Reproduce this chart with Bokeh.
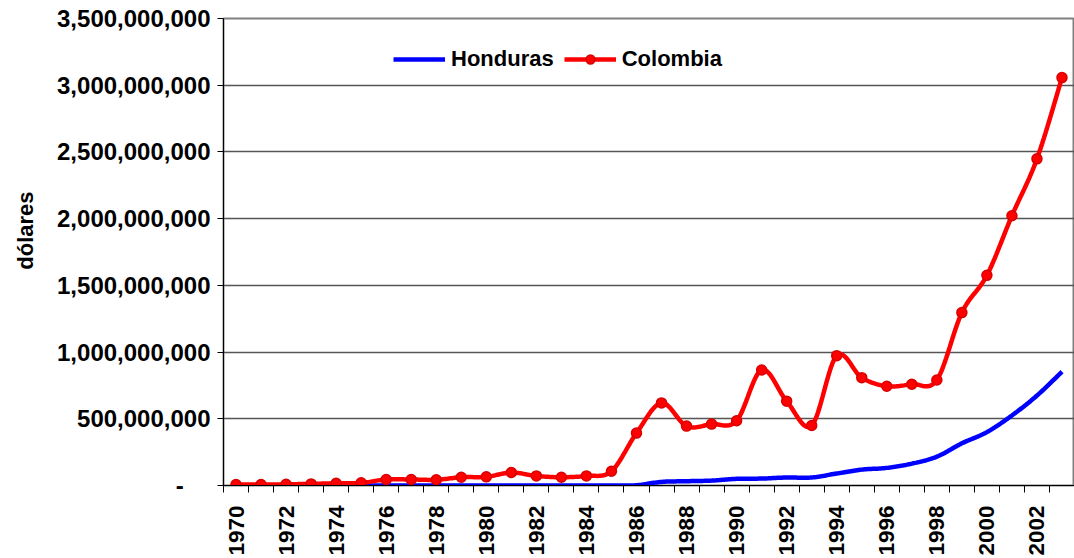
import numpy as np
from bokeh.plotting import figure
from bokeh.models import (Range1d, FixedTicker, CustomJSTickFormatter, Legend, LegendItem)
from bokeh.embed import file_html
from bokeh.resources import INLINE

years = list(range(1970, 2004))
colombia = [7e6, 7e6, 9e6, 12e6, 17e6, 20e6, 45e6, 45e6, 43e6, 62e6, 65e6, 97e6, 72e6, 62e6, 72e6,
            107e6, 393e6, 619e6, 445e6, 460e6, 485e6, 866e6, 632e6, 450e6, 973e6, 808e6, 744e6,
            759e6, 791e6, 1296e6, 1575e6, 2022e6, 2448e6, 3057e6]
honduras = [0, 0, 0, 0, 0, 0, 0, 0, 0, 0, 0, 0, 0, 0, 0,
            0, 2e6, 27e6, 32e6, 37e6, 50e6, 52e6, 60e6, 60e6, 90e6, 119e6, 132e6,
            164e6, 216e6, 316e6, 400e6, 525e6, 674e6, 853e6]
y_ticks = [0, 500e6, 1000e6, 1500e6, 2000e6, 2500e6, 3000e6, 3500e6]
x_labels = list(range(1970, 2003, 2))


def smooth(xs, ys, n=16):
    """Catmull-Rom spline through the data points (like Excel smoothed lines)."""
    xs = np.asarray(xs, float)
    ys = np.asarray(ys, float)
    px = np.concatenate([[xs[0]], xs, [xs[-1]]])
    py = np.concatenate([[ys[0]], ys, [ys[-1]]])
    outx, outy = [], []
    t = np.linspace(0, 1, n, endpoint=False)
    for i in range(1, len(px) - 2):
        p0x, p1x, p2x, p3x = px[i - 1], px[i], px[i + 1], px[i + 2]
        p0y, p1y, p2y, p3y = py[i - 1], py[i], py[i + 1], py[i + 2]
        c1x = p1x + (p2x - p0x) / 6
        c1y = p1y + (p2y - p0y) / 6
        c2x = p2x - (p3x - p1x) / 6
        c2y = p2y - (p3y - p1y) / 6
        b0 = (1 - t) ** 3
        b1 = 3 * (1 - t) ** 2 * t
        b2 = 3 * (1 - t) * t ** 2
        b3 = t ** 3
        outx.extend(b0 * p1x + b1 * c1x + b2 * c2x + b3 * p2x)
        outy.extend(b0 * p1y + b1 * c1y + b2 * c2y + b3 * p2y)
    outx.append(xs[-1])
    outy.append(ys[-1])
    return outx, outy


FONT = "Liberation Sans"

p = figure(width=1074, height=558, output_backend="svg", toolbar_location=None,
           x_range=Range1d(1969.5, 2003.5), y_range=Range1d(0, 3.5e9),
           min_border_left=223, min_border_right=0, min_border_top=18, min_border_bottom=71)

p.outline_line_color = "#808080"
p.outline_line_width = 2
p.xgrid.grid_line_color = None
p.ygrid.grid_line_color = "#555555"
p.ygrid.grid_line_width = 1.3
p.ygrid.ticker = FixedTicker(ticks=y_ticks)

# y axis
p.yaxis.ticker = FixedTicker(ticks=y_ticks)
p.yaxis.formatter = CustomJSTickFormatter(
    code="return tick == 0 ? '-\\u00a0\\u00a0\\u00a0\\u00a0' : tick.toLocaleString('en-US');")
p.yaxis.major_label_text_font = FONT
p.yaxis.major_label_text_font_style = "bold"
p.yaxis.major_label_text_font_size = "24px"
p.yaxis.major_label_text_color = "black"
p.yaxis.major_tick_out = 6
p.yaxis.major_tick_in = 0
p.yaxis.minor_tick_line_color = None
p.yaxis.major_label_standoff = 7
p.yaxis.axis_line_color = "black"
p.yaxis.major_tick_line_color = "black"
p.yaxis.axis_label = "\u00a0" * 7 + "dólares"
p.yaxis.axis_label_text_font = FONT
p.yaxis.axis_label_text_font_style = "bold"
p.yaxis.axis_label_text_font_size = "22px"
p.yaxis.axis_label_text_color = "black"
p.yaxis.axis_label_standoff = 16

# x axis
p.xaxis.ticker = FixedTicker(ticks=x_labels, minor_ticks=[y - 0.5 for y in years] + [years[-1] + 0.5])
p.xaxis.major_label_orientation = np.pi / 2
p.xaxis.major_label_text_font = FONT
p.xaxis.major_label_text_font_style = "bold"
p.xaxis.major_label_text_font_size = "22.5px"
p.xaxis.major_label_text_color = "black"
p.xaxis.major_tick_line_color = None
p.xaxis.major_tick_out = 7
p.xaxis.minor_tick_out = 7
p.xaxis.minor_tick_in = 0
p.xaxis.minor_tick_line_color = "black"
p.xaxis.major_label_standoff = 13
p.xaxis.axis_line_color = "black"

hx, hy = smooth(years, honduras)
cx, cy = smooth(years, colombia)

hline = p.line(hx, hy, line_color="#0000FF", line_width=4.5)
cline = p.line(cx, cy, line_color="#FF0000", line_width=4.5)
cpts = p.scatter(years, colombia, size=10, fill_color="#FF0000", line_color="#D80000", line_width=1.5)

legend = Legend(items=[LegendItem(label="Honduras", renderers=[hline]),
                       LegendItem(label="Colombia", renderers=[cline, cpts])],
                orientation="horizontal", location=(170, 413),
                padding=0, margin=0, spacing=10, label_standoff=6,
                glyph_width=52, glyph_height=22, label_height=22,
                border_line_color=None, background_fill_alpha=0,
                label_text_font=FONT, label_text_font_style="bold",
                label_text_font_size="22px", label_text_color="black")
p.add_layout(legend)

open("out.html", "w").write(file_html(p, INLINE))
